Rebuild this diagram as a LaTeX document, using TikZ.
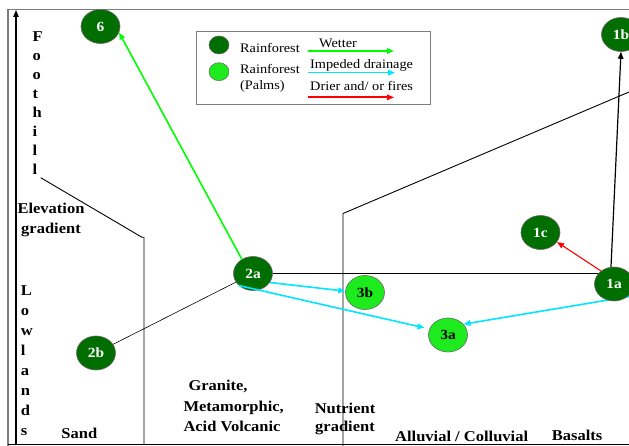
\documentclass[tikz,border=0pt]{standalone}
\usepackage{fontspec}
\setmainfont{Liberation Serif}[FakeStretch=1.1]
\usetikzlibrary{arrows.meta,shapes.geometric}
\pgfdeclarelayer{bg}
\pgfsetlayers{bg,main}
\definecolor{dkgreen}{RGB}{0,110,0}
\definecolor{ltgreen}{RGB}{30,235,30}
\definecolor{brgreen}{RGB}{0,255,0}
\definecolor{cyanline}{RGB}{0,230,255}
\definecolor{framegray}{RGB}{125,125,125}
\begin{document}
\begin{tikzpicture}[x=1pt,y=-1pt,
  dk/.style={ellipse, draw=black!60, line width=0.6pt, fill=dkgreen, text=white,
    font=\bfseries\fontsize{14}{14}\selectfont, minimum width=39pt, minimum height=34pt, inner sep=0pt},
  lt/.style={dk, fill=ltgreen, text=black},
  legdot/.style={ellipse, draw=black!60, line width=0.5pt, fill=dkgreen, minimum width=20pt, minimum height=18pt, inner sep=0pt},
  lbl/.style={font=\bfseries\fontsize{15}{20}\selectfont, inner sep=0pt},
  stack/.style={inner sep=0pt, align=left},
  leg/.style={font=\fontsize{13}{13}\selectfont, inner sep=0pt, anchor=base west},
  tip/.style={-{Triangle[length=7pt,width=5.5pt]}},
  thinline/.style={line width=0.9pt},
  wetter/.style={tip, draw=brgreen, line width=1.6pt},
  impeded/.style={tip, draw=cyanline, line width=1.6pt},
  drier/.style={tip, draw=red, line width=1.1pt},
  upward/.style={tip, draw=black, line width=1.2pt}
]
\useasboundingbox (0,0) rectangle (629,446);

% frame
\coordinate (fa) at (8,446);
\coordinate (fb) at (8,9.5);
\coordinate (fc) at (629,9.5);
\draw[framegray, line width=1.6pt] (fa) -- (fb) -- (fc);
\coordinate (ba) at (8,444.5);
\coordinate (bb) at (629,444.5);
\draw[black, line width=1.6pt] (ba) -- (bb);
% y axis
\coordinate (ya) at (16,445);
\coordinate (yb) at (16,10);
\draw[tip, line width=1.1pt] (ya) -- (yb);

% nodes
\node[dk] (n6) at (100.5,26.5) {6};
\node[dk] (n1b) at (621,34.5) {1b};
\node[dk] (n1c) at (540.5,232.5) {1c};
\node[dk] (n1a) at (614,284) {1a};
\node[lt] (n3a) at (448,335) {3a};
\node[lt] (n3b) at (365,292.5) {3b};
\node[dk] (n2a) at (253,273.5) {2a};
\node[dk] (n2b) at (96,353) {2b};

% background lines
\coordinate (f1) at (40.7,177.7);
\coordinate (f2) at (142,237.3);
\coordinate (f3) at (144,237.3);
\coordinate (f4) at (144,444);
\coordinate (v1) at (343,213.5);
\coordinate (v2) at (343,446);
\coordinate (e1) at (629,92);
\coordinate (c2) at (629,296.5);
\begin{pgfonlayer}{bg}
  \fill[white] (0,0) rectangle (629,446);
  \draw[thinline] (f1) -- (f2) -- (f3) -- (f4);
  \draw[thinline] (v2) -- (v1) -- (e1);
  \draw[line width=0.6pt] (n2b.center) -- (n2a.center);
  \draw[thinline] (n2a.center) -- (n2a.center -| n1a.center);
  \draw[impeded] (c2) -- (n3a.35);
\end{pgfonlayer}

% arrows
\draw[wetter] (n2a.128) -- (n6.-18);
\draw[impeded] (n2a.-28) -- (n3b.176);
\draw[impeded, shorten >=5pt] (n2a.-140) -- (n3a.162);
\draw[drier] (n1a.135) -- (n1c.-30);
\draw[upward] (n1a.100) -- (n1b.south);

% labels
\node[lbl, stack, anchor=north west, font=\bfseries\fontsize{15}{19}\selectfont] (foot) at (32.5,31.7) {F\\o\\o\\t\\h\\i\\l\\l};
\node[lbl, stack, anchor=north west, font=\bfseries\fontsize{15}{20.1}\selectfont] (low) at (20.7,285) {L\\o\\w\\l\\a\\n\\d\\s};
\node[lbl, align=center, anchor=north, font=\bfseries\fontsize{15}{19.3}\selectfont] (elev) at (51,203.3) {Elevation\\gradient};
\node[lbl, anchor=base] (sand) at (79.3,438.3) {Sand};
\node[lbl, stack, anchor=north west, font=\bfseries\fontsize{15}{20.3}\selectfont] (gran) at (183.3,380.3) {\hspace*{5pt}Granite,\\Metamorphic,\\Acid Volcanic};
\node[lbl, align=center, anchor=north, font=\bfseries\fontsize{15}{18}\selectfont] (nutr) at (345,402.7) {Nutrient\\gradient};
\node[lbl, anchor=base west] (allu) at (395,441.7) {Alluvial / Colluvial};
\node[lbl, anchor=base west] (basa) at (551.7,440.7) {Basalts};

% legend
\node[draw=framegray, line width=0.9pt, minimum width=234pt, minimum height=73.3pt, inner sep=0pt] (legbox) at (313.7,67.7) {};
\node[legdot] (ld1) at (219,45) {};
\node[legdot, fill=ltgreen] (ld2) at (219,71.7) {};
\node[leg] (lt1) at (240,53) {Rainforest};
\node[leg] (lt2) at (240,73.3) {Rainforest};
\node[leg] (lt3) at (240,90) {(Palms)};
\node[leg] (lw) at (319,47.6) {Wetter};
\node[leg] (li) at (310,68.6) {Impeded drainage};
\node[leg] (ldr) at (310,90.3) {Drier and/ or fires};
\coordinate (la1) at (307.7,51);
\coordinate (la2) at (394,51);
\coordinate (lb1) at (307.7,72.7);
\coordinate (lb2) at (395,72.7);
\coordinate (lc1) at (307.7,97.3);
\coordinate (lc2) at (394,97.3);
\draw[wetter] (la1) -- (la2);
\draw[impeded] (lb1) -- (lb2);
\draw[drier, line width=1.6pt] (lc1) -- (lc2);
\end{tikzpicture}
\end{document}
